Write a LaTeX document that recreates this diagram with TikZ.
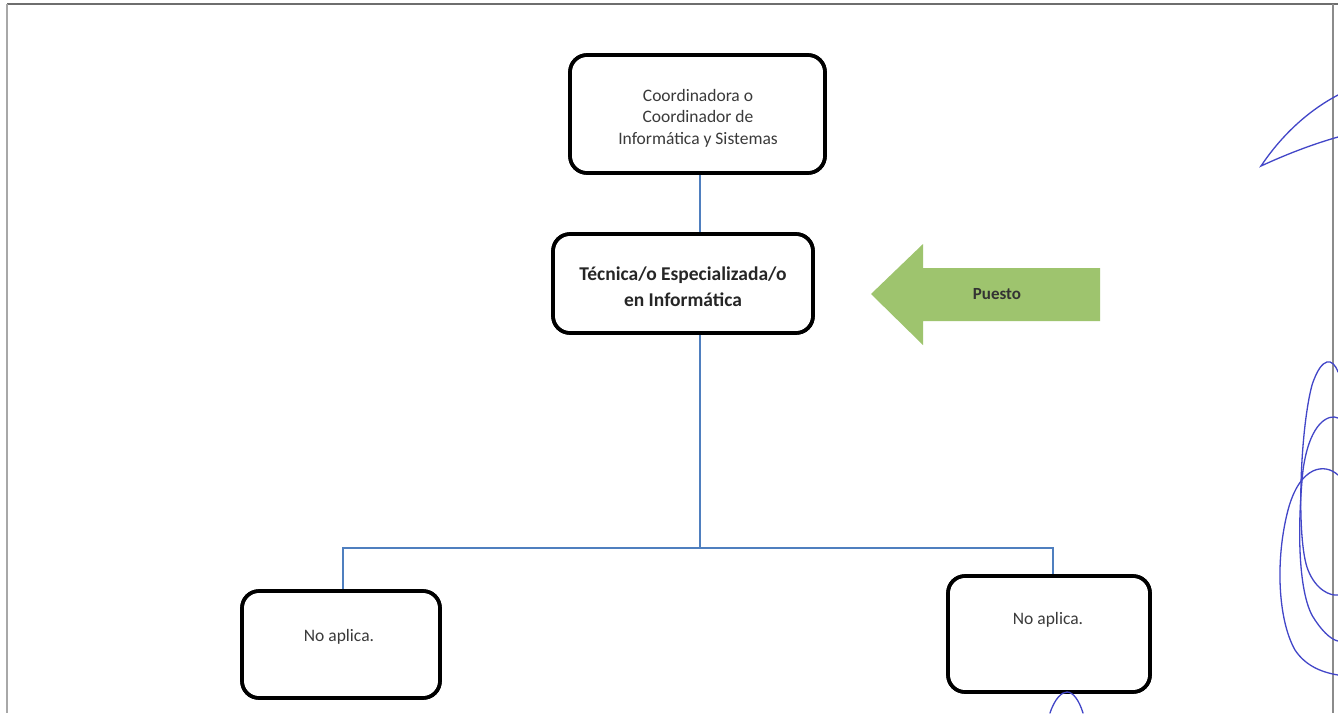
\documentclass[tikz,border=0pt]{standalone}
\usepackage{fontspec}
\setmainfont{Carlito}
\begin{document}
\begin{tikzpicture}[x=1pt,y=-1pt,
  box/.style={draw=black,line width=3.6pt,rounded corners=17pt,fill=white,inner sep=0pt},
  conn/.style={draw=connblue,line width=1.2pt},
  lite/.style={text=textgray,font=\fontsize{17.5}{21.5}\selectfont,align=center,inner sep=0pt},
  heavy/.style={text=black!85,font=\bfseries\fontsize{19.5}{26}\selectfont,align=center,inner sep=0pt},
  pen/.style={draw=penblue,line width=1.3pt,line cap=round}]
\definecolor{connblue}{HTML}{4F7FBF}
\definecolor{textgray}{HTML}{3A3A3A}
\definecolor{arrgreen}{HTML}{9EC46E}
\definecolor{penblue}{HTML}{4246C8}
\definecolor{framegray}{HTML}{6E6E6E}
\useasboundingbox (0,0) rectangle (1338,713);
\fill[white] (0,0) rectangle (1338,713);
% frame
\draw[framegray,line width=1.8pt] (7,4) -- (1338,4);
\draw[framegray!60,line width=1.4pt] (7,4) -- (7,713);
\draw[framegray!80,line width=1.2pt] (1333,4) -- (1333,713);
% boxes
\node[box,minimum width=255pt,minimum height=118pt] (top) at (697.5,114) {};
\node[box,minimum width=260pt,minimum height=99pt] (mid) at (683,283.5) {};
\node[box,minimum width=198pt,minimum height=107pt] (left) at (341,644.5) {};
\node[box,minimum width=202pt,minimum height=116pt] (right) at (1049,634) {};
% connectors
\coordinate (j) at (700,548);
\draw[conn] (700,173) -- (700,234);
\draw[conn] (700,333) -- (j);
\draw[conn] (j) -| (343,591);
\draw[conn] (j) -| (1053,576);
% redraw box borders above connectors
\node[box,minimum width=255pt,minimum height=118pt,fill=none] at (top) {};
\node[box,minimum width=260pt,minimum height=99pt,fill=none] at (mid) {};
\node[box,minimum width=198pt,minimum height=107pt,fill=none] at (left) {};
\node[box,minimum width=202pt,minimum height=116pt,fill=none] at (right) {};
% texts
\node[lite] (ttop) at (698,118) {Coordinadora o\\Coordinador de\\Informática y Sistemas};
\node[heavy] (tmid) at (683,287) {Técnica/o Especializada/o\\en Informática};
\node[lite] (tleft) at (339,637) {No aplica.};
\node[lite] (tright) at (1048,620) {No aplica.};
% green arrow
\fill[arrgreen] (871,294) -- (923,244) -- (923,268) -- (1100,268) -- (1100,321) -- (923,321) -- (923,345) -- cycle;
\node[heavy,font=\bfseries\fontsize{17}{20}\selectfont,text=black!80] (puesto) at (997,294) {Puesto};
% pen scribbles
\draw[pen] (1338,95) .. controls (1300,115) and (1275,145) .. (1261,166) .. controls (1285,155) and (1310,145) .. (1338,137);
\draw[pen] (1338,372) .. controls (1333,358) and (1322,355) .. (1312,385) .. controls (1300,430) and (1296,540) .. (1308,570) .. controls (1316,590) and (1330,596) .. (1338,595);
\draw[pen] (1338,418) .. controls (1330,414) and (1310,420) .. (1303,470) .. controls (1296,540) and (1300,600) .. (1315,620) .. controls (1325,635) and (1333,640) .. (1338,641);
\draw[pen] (1338,475) .. controls (1325,463) and (1300,465) .. (1288,510) .. controls (1275,560) and (1278,620) .. (1295,650) .. controls (1305,665) and (1320,672) .. (1338,675);
\draw[pen] (1050,713) .. controls (1055,698) and (1062,692) .. (1067,692) .. controls (1073,692) and (1079,700) .. (1083,713);
\end{tikzpicture}
\end{document}
